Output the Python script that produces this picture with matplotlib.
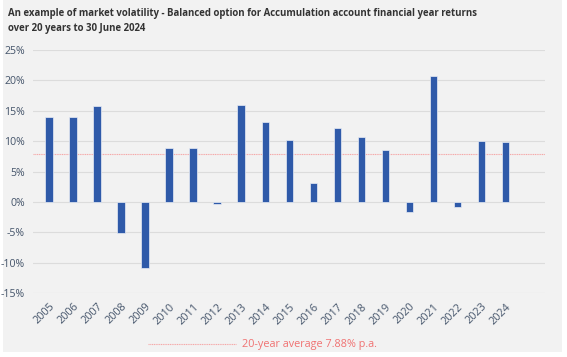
import numpy as np
from matplotlib import pyplot as plt
from matplotlib.patches import Rectangle
from matplotlib.lines import Line2D

years = [str(y) for y in range(2005, 2025)]
returns = [13.9, 14.0, 15.8, -5.1, -10.9, 8.9, 8.9, -0.3, 15.9, 13.2,
           10.2, 3.1, 12.2, 10.6, 8.6, -1.6, 20.7, -0.9, 10.0, 9.8]
average = 7.88
yticks = [-15, -10, -5, 0, 5, 10, 15, 20, 25]

title = ("An example of market volatility - Balanced option for Accumulation account financial year returns\n"
         "over 20 years to 30 June 2024")
avg_label = "20-year average 7.88% p.a."

plt.rcParams['font.family'] = ['Open Sans', 'DejaVu Sans']

W, H = 567, 357
fig = plt.figure(figsize=(W / 100, H / 100), dpi=100, facecolor='white')
fig.patches.append(Rectangle((3 / W, 1 - 352 / H), 559 / W, 352 / H,
                             transform=fig.transFigure, facecolor='#f2f2f2',
                             edgecolor='none', zorder=-5))

ax = fig.add_axes([33 / W, 1 - 293 / H, 512 / W, 243 / H])
ax.set_facecolor('none')

x = np.arange(len(years))
ax.bar(x, returns, width=0.31, color='#2f5aa9', edgecolor='#e8ecf5',
       linewidth=0.5, zorder=3)
ax.axhline(average, color='#f5a8a8', lw=0.8, ls=(0, (1, 0.6)), zorder=2)

ax.set_xlim(-0.67, 20.65)
ax.set_ylim(-15, 25)
ax.set_yticks(yticks)
ax.set_yticklabels([f"{v}%" for v in yticks])
ax.set_xticks(x)
ax.set_xticklabels(years, rotation=45, ha='right', rotation_mode='anchor')
ax.tick_params(axis='y', length=0, pad=6, labelsize=7.6, labelcolor='#44546a')
ax.tick_params(axis='x', length=0, pad=6, labelsize=7.8, labelcolor='#44546a')
ax.grid(axis='y', color='#dcdcdc', lw=0.8, zorder=1)
for s in ax.spines.values():
    s.set_visible(False)

fig.text(8 / W, 1 - 8 / H, title, ha='left', va='top', fontsize=6.95,
         fontweight='bold', color='#333333', linespacing=1.45)

fig.add_artist(Line2D([148 / W, 236 / W], [1 - 344 / H, 1 - 344 / H],
                      transform=fig.transFigure, color='#f5a8a8', lw=0.8,
                      ls=(0, (1, 0.6))))
fig.text(242 / W, 1 - 344 / H, avg_label, ha='left', va='center',
         fontsize=7.8, color='#f07272')

fig.savefig('out.png', dpi=100, facecolor='white')
